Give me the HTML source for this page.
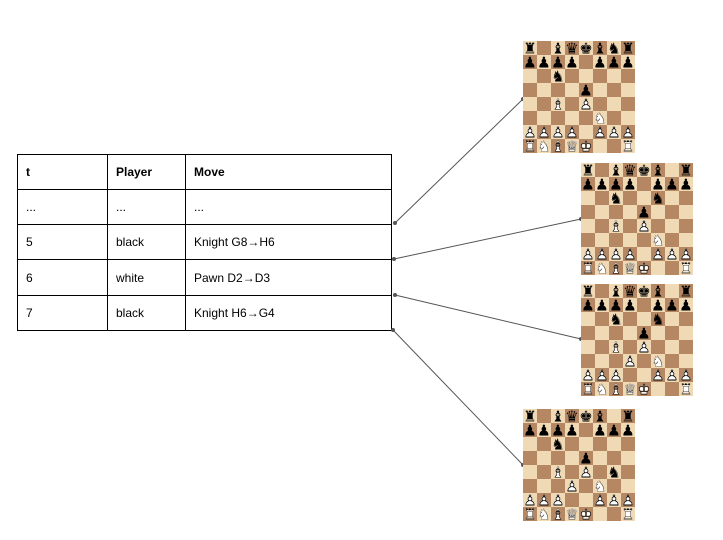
<!DOCTYPE html>
<html><head><meta charset="utf-8"><style>
html,body{margin:0;padding:0;background:#fff;width:723px;height:540px;overflow:hidden}
svg{display:block}
</style></head><body>
<svg id="s" width="723" height="540" xmlns="http://www.w3.org/2000/svg" font-family="Liberation Sans, Arial, sans-serif">
<g stroke="#000" stroke-width="1" fill="none">
<rect x="17.5" y="154.5" width="374" height="176"/>
<line x1="17" y1="189.5" x2="392" y2="189.5"/>
<line x1="17" y1="224.5" x2="392" y2="224.5"/>
<line x1="17" y1="259.5" x2="392" y2="259.5"/>
<line x1="17" y1="295.5" x2="392" y2="295.5"/>
<line x1="107.5" y1="154" x2="107.5" y2="331"/>
<line x1="185.5" y1="154" x2="185.5" y2="331"/>
</g>
<g font-size="12" fill="#000">
<text x="26" y="176" font-weight="bold">t</text>
<text x="116" y="176" font-weight="bold">Player</text>
<text x="194" y="176" font-weight="bold">Move</text>
<text x="26" y="211">...</text><text x="116" y="211">...</text><text x="194" y="211">...</text>
<text x="26" y="246">5</text><text x="116" y="246">black</text><text x="194" y="246">Knight G8→H6</text>
<text x="26" y="282">6</text><text x="116" y="282">white</text><text x="194" y="282">Pawn D2→D3</text>
<text x="26" y="317">7</text><text x="116" y="317">black</text><text x="194" y="317">Knight H6→G4</text>
</g>
<g stroke="#555" stroke-width="1">
<line x1="395" y1="223" x2="523" y2="99"/>
<line x1="394" y1="259" x2="581" y2="219"/>
<line x1="395" y1="295" x2="581" y2="339"/>
<line x1="393" y1="330" x2="523" y2="465"/>
</g>
<g fill="#555">
<circle cx="395" cy="223" r="2"/><circle cx="523" cy="99" r="2"/>
<circle cx="394" cy="259" r="2"/><circle cx="581" cy="219" r="2"/>
<circle cx="395" cy="295" r="2"/><circle cx="581" cy="339" r="2"/>
<circle cx="393" cy="330" r="2"/><circle cx="523" cy="465" r="2"/>
</g>
<g id="boards"></g>
</svg>
<script>
var B1=["r.bqkbnr","pppp.ppp","..n.....","....p...","..B.P...",".....N..","PPPP.PPP","RNBQK..R"];
var B2=B1.slice();B2[0]="r.bqkb.r";B2[2]="..n..n..";
var B3=B2.slice();B3[5]="...P.N..";B3[6]="PPP..PPP";
var B4=B3.slice();B4[2]="..n.....";B4[4]="..B.P.n.";
var G={k:"♚",q:"♛",r:"♜",b:"♝",n:"♞",p:"♟"};
var W={k:"♔",q:"♕",r:"♖",b:"♗",n:"♘",p:"♙"};
var out="";
function board(x,y,b){
 var s=14;
 for(var r=0;r<8;r++)for(var c=0;c<8;c++){
  var light=(r+c)%2==0;
  out+='<rect x="'+(x+c*s)+'" y="'+(y+r*s)+'" width="'+s+'" height="'+s+'" fill="'+(light?'#f0d9b5':'#b58863')+'"/>';
  var ch=b[r][c];
  if(ch!="."){
   var w=ch==ch.toUpperCase();
   var k=ch.toLowerCase();
   var a='x="'+(x+c*s+7)+'" y="'+(y+r*s+12.5)+'" font-family="DejaVu Sans, sans-serif" font-size="15" text-anchor="middle"';
   if(w){
    out+='<text '+a+' fill="#fff">'+G[k]+'</text>';
    out+='<text '+a+' fill="#000">'+W[k]+'</text>';
   } else out+='<text '+a+' fill="#000">'+G[k]+'</text>';
  }
 }
}
board(523,41,B1);board(581,163,B2);board(581,284,B3);board(523,409,B4);
document.getElementById("boards").innerHTML=out;
</script>
</body></html>
